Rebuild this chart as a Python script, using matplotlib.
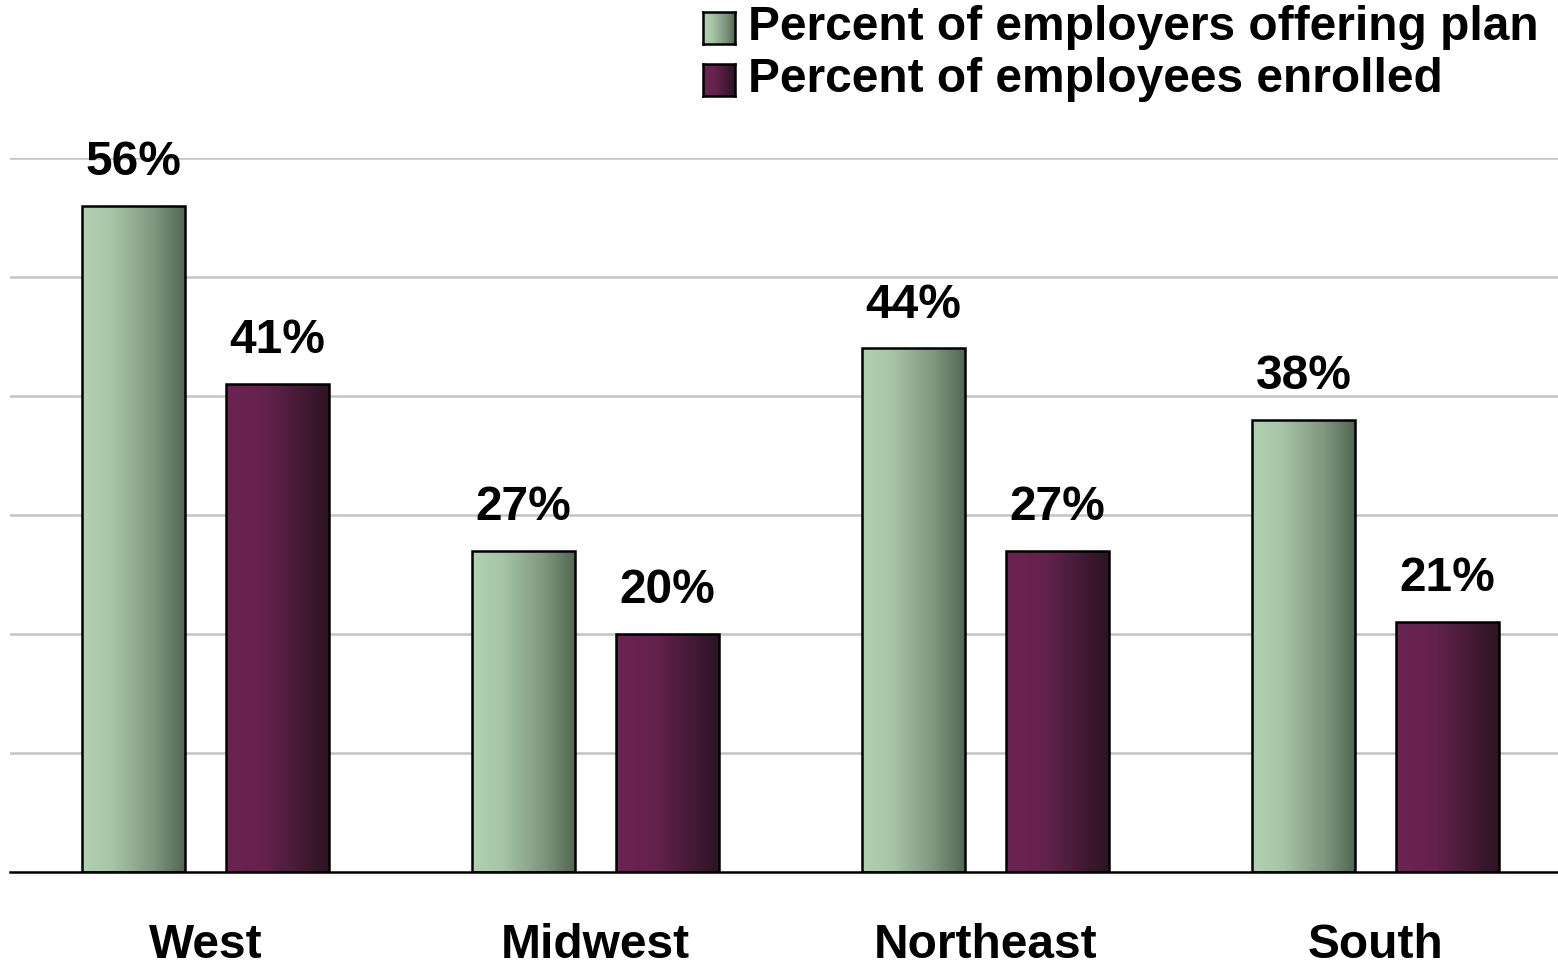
import numpy as np
import matplotlib
matplotlib.use("Agg")
import matplotlib.pyplot as plt
from matplotlib.colors import LinearSegmentedColormap

plt.rcParams['font.family'] = ['Liberation Sans', 'DejaVu Sans']

regions = ["West", "Midwest", "Northeast", "South"]
employers_offering = [56, 27, 44, 38]
employees_enrolled = [41, 20, 27, 21]
series_names = ["Percent of employers offering plan", "Percent of employees enrolled"]

green_cmap = LinearSegmentedColormap.from_list(
    "green_grad", [(0.0, "#b1d2b1"), (0.3, "#a7c4a7"), (0.7, "#7f967f"), (1.0, "#536853")])
purple_cmap = LinearSegmentedColormap.from_list(
    "purple_grad", [(0.0, "#6c2452"), (0.4, "#62224b"), (1.0, "#2c1424")])

FS = 34.5
W, H = 1558, 967
fig = plt.figure(figsize=(W / 100, H / 100), dpi=100)
ax = fig.add_axes([10 / W, 1 - 872 / H, (1558 - 10) / W, (872 - 158) / H])

x = np.arange(len(regions))
bw = 0.264
off = 0.1846
grad = np.linspace(0, 1, 256).reshape(1, -1)

def gradient_bars(xpos, vals, cmap):
    bars = ax.bar(xpos, vals, width=bw, facecolor="none", edgecolor="black",
                  linewidth=1.8, zorder=3)
    for b in bars:
        x0, y0 = b.get_x(), b.get_y()
        im = ax.imshow(grad, cmap=cmap, aspect="auto", zorder=2,
                       extent=(x0, x0 + b.get_width(), y0, y0 + b.get_height()))
        im.set_clip_path(b)
    for xi, v in zip(xpos, vals):
        ax.annotate(f"{v}%", (xi, v), xytext=(0, 15), textcoords="offset points",
                    ha="center", va="bottom", fontsize=FS, fontweight="bold", zorder=4)
    return bars

gradient_bars(x - off, employers_offering, green_cmap)
gradient_bars(x + off, employees_enrolled, purple_cmap)

ax.set_xlim(-0.501, 3.468)
ax.set_ylim(0, 60)
ax.set_yticks(np.arange(10, 61, 10))
ax.yaxis.grid(True, color="#c4c4c4", linewidth=1.8, zorder=0)
ax.set_axisbelow(True)
ax.tick_params(left=False, labelleft=False, bottom=False)
for s in ["top", "right", "left"]:
    ax.spines[s].set_visible(False)
ax.spines["bottom"].set_linewidth(1.8)
ax.spines["bottom"].set_color("black")
ax.set_xticks(x)
ax.set_xticklabels(regions, fontsize=FS, fontweight="bold")
ax.tick_params(axis="x", pad=33)

# legend: gradient swatches with labels
for i, (name, cmap) in enumerate(zip(series_names, [green_cmap, purple_cmap])):
    yc = 28 + 52 * i
    sw = fig.add_axes([703 / W, 1 - (yc + 16) / H, 32 / W, 32 / H])
    sw.imshow(grad, cmap=cmap, aspect="auto", extent=(0, 1, 0, 1))
    sw.set_xticks([]); sw.set_yticks([])
    for sp in sw.spines.values():
        sp.set_linewidth(1.8)
    fig.text(748 / W, 1 - yc / H, name, fontsize=FS, fontweight="bold",
             ha="left", va="center")

fig.savefig("out.png", dpi=100, facecolor="white")
